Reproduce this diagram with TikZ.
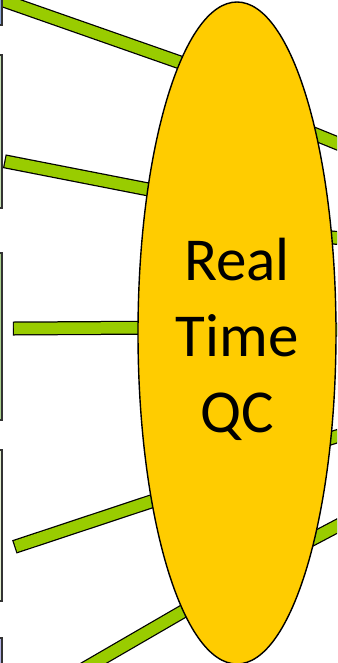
\documentclass[tikz,border=0pt]{standalone}
\usepackage{fontspec}
\setmainfont{Carlito}
\usepackage{tikz}
\usetikzlibrary{
  shapes.geometric,
  positioning, backgrounds
}
\usepackage{xcolor}
\definecolor{qcyellow}{HTML}{FFCC00}
\definecolor{spokegreen}{HTML}{99CC00}
\definecolor{boxblue}{HTML}{8EA9DB}
\definecolor{boxgreen}{HTML}{C5E0B4}
\definecolor{boxlime}{HTML}{A9D18E}
\definecolor{boxpale}{HTML}{E2EFD0}
\definecolor{boxlilac}{HTML}{B4B4E6}

\begin{document}
\begin{tikzpicture}[
  x=1pt, y=-1pt,
  hub/.style={ellipse, draw=black, line width=1.4pt, fill=qcyellow,
              minimum width=198pt, minimum height=662pt, inner sep=0pt,
              align=center, font=\fontsize{61}{76}\selectfont},
  spoke/.style={draw=spokegreen, line width=11.5pt, shorten >=-12pt,
                preaction={draw=black, line width=14pt, shorten <=-1.2pt, shorten >=-12pt}},
  feed/.style={rectangle, draw=black!80, line width=1.2pt, anchor=east,
               minimum width=80pt, inner sep=0pt}
]
\useasboundingbox (0,0) rectangle (337,663);
\clip (0,0) rectangle (337,663);

% Boxes cut by the left edge
\node[feed, fill=boxblue,  minimum height=60pt]  (feedA) at (2.5,-5) {};
\node[feed, fill=boxgreen, minimum height=153pt] (feedB) at (2.5,131.5) {};
\node[feed, fill=boxlime,  minimum height=167pt] (feedC) at (2.5,336.5) {};
\node[feed, fill=boxpale,  minimum height=151pt] (feedD) at (2.5,525.5) {};
\node[feed, fill=boxlilac, minimum height=124pt] (feedE) at (2.5,700) {};

% Hub
\node[hub] (qc) at (237,333) {\rule{0pt}{56pt}Real\\Time\\QC};

% Free ends of the spokes
\coordinate (lA) at (-20,-7.7);
\coordinate (lB) at (5.5,161.5);
\coordinate (lC) at (14,328.5);
\coordinate (lD) at (15.5,546.5);
\coordinate (lE) at (64.7,680);
\coordinate (rA) at (360,152.5);
\coordinate (rB) at (360,240);
\coordinate (rC) at (360,328.5);
\coordinate (rD) at (360,429);
\coordinate (rE) at (360,514);

% Spokes
\begin{pgfonlayer}{background}
\clip (0,0) rectangle (337,663);
\draw[spoke] (lA) -- (qc.102.4);
\draw[spoke] (lB) -- (qc.122.7);
\draw[spoke] (lC) -- (qc.177.4);
\draw[spoke] (lD) -- (qc.243);
\draw[spoke] (lE) -- (qc.259.4);
\draw[spoke] (rA) -- (qc.68.6);
\draw[spoke] (rB) -- (qc.45.4);
\draw[spoke] (rC) -- (qc.2.6);
\draw[spoke] (rD) -- (qc.312);
\draw[spoke] (rE) -- (qc.291.5);
\end{pgfonlayer}

\end{tikzpicture}
\end{document}
